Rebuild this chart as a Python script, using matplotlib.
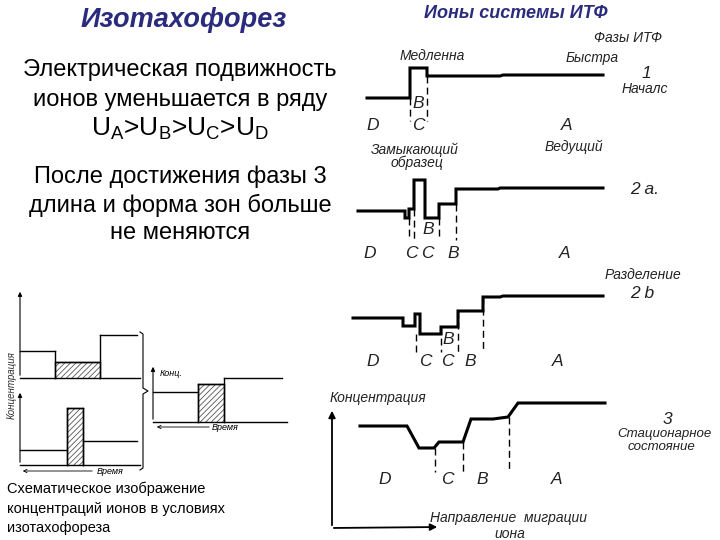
import matplotlib.pyplot as plt
import numpy as np

plt.rcParams['font.family'] = ['Liberation Sans', 'DejaVu Sans']

# --- profile data (drawing units = pixels of the slide, y down) ---
# phase 1: start
p1_x = [367, 410, 410, 427, 427, 500, 503, 603]
p1_y = [98, 98, 68, 68, 76, 76, 75, 75]
p1_dash = [410, 427]
p1_dash_top = [98, 76]

# phase 2a
p2a_x = [358, 405, 405, 409, 409, 414, 414, 425, 425, 439, 439, 456, 456, 498, 500, 603]
p2a_y = [211, 211, 218, 218, 209, 209, 180, 180, 218, 218, 204, 204, 189, 189, 188, 188]
p2a_dash = [409, 414, 439, 456]
p2a_dash_top = [218, 209, 218, 204]

# phase 2b
p2b_x = [353, 403, 403, 415, 415, 420, 420, 441, 441, 458, 458, 483, 483, 500, 503, 603]
p2b_y = [318, 318, 326, 326, 314, 314, 334, 334, 327, 327, 311, 311, 297, 297, 296, 296]
p2b_dash = [416, 441, 458, 483]
p2b_dash_top = [334, 327, 311, 297]

# phase 3: steady state
p3_x = [360, 407, 419, 434, 439, 463, 471, 493, 508, 518, 605]
p3_y = [426, 426, 448, 448, 442, 442, 419, 419, 417, 403, 403]
p3_dash = [435, 463, 509]
p3_dash_top = [448, 442, 417]

# left schematic: upper, lower, right panels (step edges, levels)
up_edges = [20, 55, 100, 137]
up_levels = [351, 362, 335]
lo_edges = [20, 67, 83, 137]
lo_levels = [450, 408, 441]
rt_edges = [153, 198, 224, 282]
rt_levels = [392, 384, 378]

navy = '#2b2b7e'

fig = plt.figure(figsize=(7.2, 5.4), dpi=100)
ax = fig.add_axes([0, 0, 1, 1])
ax.set_xlim(0, 720)
ax.set_ylim(540, 0)
ax.axis('off')

# ---- left text ----
ax.text(184, 20, 'Изотахофорез', fontsize=19.5, fontweight='bold', style='italic',
        color=navy, ha='center', va='center')
for y, s in [(70, 'Электрическая подвижность'), (100, 'ионов уменьшается в ряду'),
             (177, 'После достижения фазы 3'), (205, 'длина и форма зон больше'),
             (233, 'не меняются')]:
    ax.text(180, y, s, fontsize=17, ha='center', va='center')
ax.text(180, 129, r'U$_\mathregular{A}$>U$_\mathregular{B}$>U$_\mathregular{C}$>U$_\mathregular{D}$',
        fontsize=19, ha='center', va='center')

# ---- right title ----
ax.text(516, 14, 'Ионы системы ИТФ', fontsize=13, fontweight='bold', style='italic',
        color=navy, ha='center', va='center')

lab = dict(style='italic', fontsize=10, ha='center', va='center', color='#222222')
big = dict(style='italic', fontsize=12.5, ha='center', va='center', color='#222222')

def profile(xs, ys, dx, dtop, dbot):
    ax.plot(xs, ys, color='black', lw=2.2, solid_joinstyle='miter')
    for x, t in zip(dx, dtop):
        ax.plot([x, x], [t, dbot], color='black', lw=1, ls=(0, (5, 3)))

profile(p1_x, p1_y, p1_dash, p1_dash_top, 121)
profile(p2a_x, p2a_y, p2a_dash, p2a_dash_top, 240)
profile(p2b_x, p2b_y, p2b_dash, p2b_dash_top, 352)
profile(p3_x, p3_y, p3_dash, p3_dash_top, 472)

# phase 1 labels
ax.text(432, 56, 'Медленна', **lab)
ax.text(592, 58, 'Быстра', **lab)
ax.text(628, 38, 'Фазы ИТФ', **lab)
ax.text(646, 74, '1', **big)
ax.text(645, 89, 'Началс', **lab)
ax.text(418, 104, 'B', **big)
ax.text(418, 126, 'C', **big)
ax.text(373, 126, 'D', **big)
ax.text(567, 126, 'A', **big)
ax.text(415, 150, 'Замыкающий', **lab)
ax.text(417, 163, 'образец', **lab)
ax.text(574, 147, 'Ведущий', **lab)

# phase 2a labels
ax.text(428, 230, 'B', **big)
for x, s in [(370, 'D'), (411, 'C'), (427, 'C'), (453, 'B'), (565, 'A')]:
    ax.text(x, 253, s, **big)
ax.text(645, 190, '2 a.', **big)

# phase 2b labels
ax.text(448, 340, 'B', **big)
for x, s in [(373, 'D'), (425, 'C'), (447, 'C'), (470, 'B'), (558, 'A')]:
    ax.text(x, 362, s, **big)
ax.text(643, 275, 'Разделение', **lab)
ax.text(642, 293, '2 b', **big)

# phase 3 labels
for x, s in [(385, 'D'), (447, 'C'), (482, 'B'), (557, 'A')]:
    ax.text(x, 480, s, **big)
ax.text(378, 398, 'Концентрация', **lab)
ax.text(667, 419, '3', **big)
ax.text(664, 434, 'Стационарное', style='italic', fontsize=9.5, ha='center',
        va='center', color='#222222')
ax.text(661, 447, 'состояние', style='italic', fontsize=9.5, ha='center',
        va='center', color='#222222')
ax.text(508, 518, 'Направление  миграции', **lab)
ax.text(510, 534, 'иона', **lab)
ax.annotate('', xy=(332, 408), xytext=(332, 528),
            arrowprops=dict(arrowstyle='-|>', color='black', lw=1.3, mutation_scale=10))
ax.annotate('', xy=(440, 527), xytext=(331, 528),
            arrowprops=dict(arrowstyle='-|>', color='black', lw=1.3, mutation_scale=10))

# ---- left schematic ----
def panel(edges, levels, hatch_idx, x0, ybase, ytop, xend):
    ax.annotate('', xy=(x0, ytop), xytext=(x0, ybase),
                arrowprops=dict(arrowstyle='-|>', color='black', lw=0.8, mutation_scale=6))
    ax.plot([x0, xend], [ybase, ybase], color='black', lw=1)
    for i, lvl in enumerate(levels):
        a, b = edges[i], edges[i + 1]
        ax.plot([a, b], [lvl, lvl], color='black', lw=1)
        if i > 0:
            ax.plot([a, a], [min(lvl, levels[i - 1]), ybase], color='black', lw=1)
    a, b = edges[hatch_idx], edges[hatch_idx + 1]
    ax.fill_between([a, b], levels[hatch_idx], ybase, facecolor='none',
                    edgecolor='#555555', hatch='//////', lw=0)
    ax.plot([a, a, b, b], [ybase, levels[hatch_idx], levels[hatch_idx], ybase],
            color='black', lw=1)

plt.rcParams['hatch.linewidth'] = 0.6
panel(up_edges, up_levels, 1, 20, 378, 289, 140)
panel(lo_edges, lo_levels, 1, 20, 465, 390, 140)
panel(rt_edges, rt_levels, 1, 153, 422, 364, 287)

# bracket
ax.plot([140, 143, 143, 148, 143, 143, 140], [332, 334, 388, 391, 394, 468, 470],
        color='black', lw=0.8)

ax.text(12, 385, 'Концентрация', rotation=90, fontsize=7, style='italic',
        ha='center', va='center', color='#333333')
ax.text(160, 373, 'Конц.', fontsize=6.5, style='italic', ha='left', va='center')
ax.annotate('', xy=(20, 471), xytext=(95, 471),
            arrowprops=dict(arrowstyle='->', color='black', lw=0.6, mutation_scale=6))
ax.text(110, 472, 'Время', fontsize=6.5, style='italic', ha='center', va='center')
ax.annotate('', xy=(154, 427), xytext=(212, 427),
            arrowprops=dict(arrowstyle='->', color='black', lw=0.6, mutation_scale=6))
ax.text(225, 428, 'Время', fontsize=6.5, style='italic', ha='center', va='center')

for y, s in [(489, 'Схематическое изображение'), (509, 'концентраций ионов в условиях'),
             (528, 'изотахофореза')]:
    ax.text(7, y, s, fontsize=10.5, ha='left', va='center')

fig.savefig('out.png', dpi=100)
